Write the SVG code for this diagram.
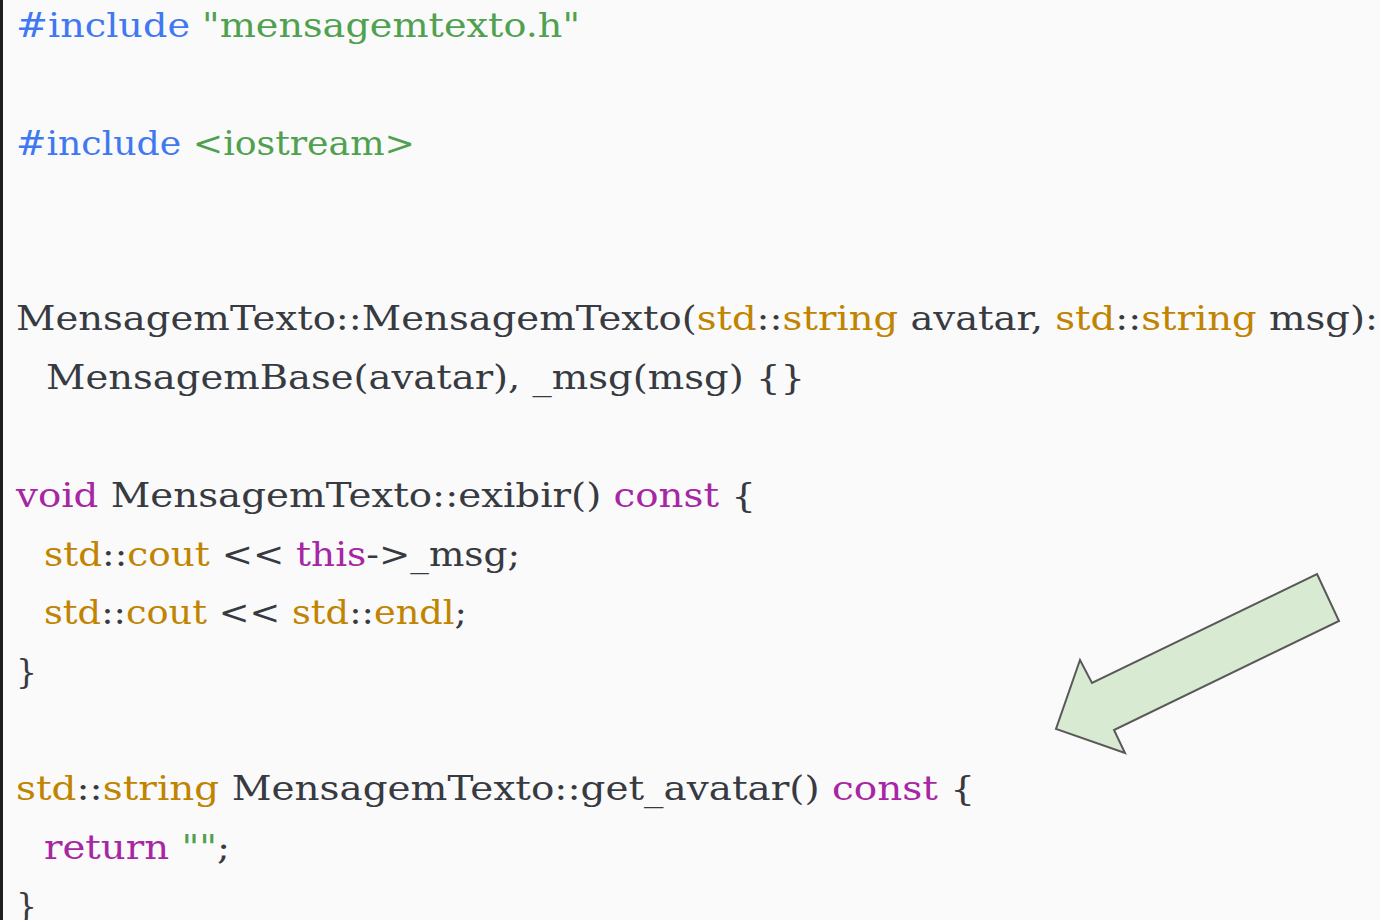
<svg xmlns="http://www.w3.org/2000/svg" width="1380" height="920" viewBox="0 0 1380 920">
  <style>
    .code { font-family: "DejaVu Serif", "Liberation Serif", serif; font-size: 33px; fill: #383a42; }
    .pp { fill: #4078f2; }
    .str { fill: #50a14f; }
    .kw { fill: #a626a4; }
    .ty { fill: #c18401; }
    .arrow { fill: #d9ead3; stroke: #595959; stroke-width: 2; stroke-linejoin: miter; }
  </style>
  <!-- page background and left rule -->
  <rect x="0" y="0" width="1380" height="920" fill="#fafafa"/>
  <rect x="0" y="0" width="3" height="920" fill="#1e1e1e"/>

  <!-- source listing -->
  <g id="code">
    <text class="code" x="16" y="37" textLength="564" lengthAdjust="spacingAndGlyphs"><tspan class="pp">#include</tspan> <tspan class="str">"mensagemtexto.h"</tspan></text>
    <text class="code" x="16" y="155" textLength="399" lengthAdjust="spacingAndGlyphs"><tspan class="pp">#include</tspan> <tspan class="str">&lt;iostream&gt;</tspan></text>
    <text class="code" x="16" y="330" textLength="1362" lengthAdjust="spacingAndGlyphs">MensagemTexto::MensagemTexto(<tspan class="ty">std</tspan>::<tspan class="ty">string</tspan> avatar, <tspan class="ty">std</tspan>::<tspan class="ty">string</tspan> msg):</text>
    <text class="code" x="46" y="389" textLength="759" lengthAdjust="spacingAndGlyphs">MensagemBase(avatar), _msg(msg) {}</text>
    <text class="code" x="16" y="507" textLength="740" lengthAdjust="spacingAndGlyphs"><tspan class="kw">void</tspan> MensagemTexto::exibir() <tspan class="kw">const</tspan> {</text>
    <text class="code" x="44" y="566" textLength="476" lengthAdjust="spacingAndGlyphs"><tspan class="ty">std</tspan>::<tspan class="ty">cout</tspan> &lt;&lt; <tspan class="kw">this</tspan>-&gt;_msg;</text>
    <text class="code" x="44" y="624" textLength="423" lengthAdjust="spacingAndGlyphs"><tspan class="ty">std</tspan>::<tspan class="ty">cout</tspan> &lt;&lt; <tspan class="ty">std</tspan>::<tspan class="ty">endl</tspan>;</text>
    <text class="code" x="16" y="683">}</text>
    <text class="code" x="16" y="800" textLength="959" lengthAdjust="spacingAndGlyphs"><tspan class="ty">std</tspan>::<tspan class="ty">string</tspan> MensagemTexto::get_avatar() <tspan class="kw">const</tspan> {</text>
    <text class="code" x="44" y="859" textLength="186" lengthAdjust="spacingAndGlyphs"><tspan class="kw">return</tspan> <tspan class="str">""</tspan>;</text>
    <text class="code" x="16" y="917">}</text>
  </g>

  <!-- block arrow pointing down-left -->
  <g id="arrow">
    <polygon class="arrow" points="1317,574 1339,621 1114,730 1125,753 1056,729 1080,660 1092,683"/>
  </g>
</svg>
